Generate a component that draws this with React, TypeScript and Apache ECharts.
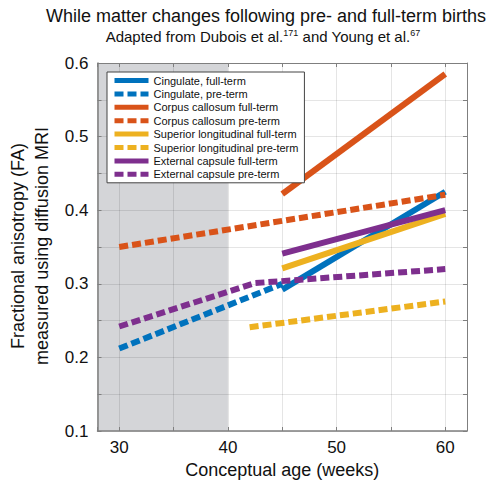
import React, { useEffect, useRef } from "react";
import * as echarts from "echarts";

const FONT = "'Liberation Sans', Arial, Helvetica, sans-serif";

const TITLE = "While matter changes following pre- and full-term births";
const SUBTITLE = "Adapted from Dubois et al.{sup|171} and Young et al.{sup|67}";
const X_NAME = "Conceptual age (weeks)";
const Y_NAME = "Fractional anisotropy (FA)\nmeasured using diffusion MRI";

const X_MIN = 28;
const X_MAX = 62;
const Y_MIN = 0.1;
const Y_MAX = 0.6;
const SHADE = [28, 40];

const seriesNames = [
  "Cingulate, full-term",
  "Cingulate, pre-term",
  "Corpus callosum full-term",
  "Corpus callosum pre-term",
  "Superior longitudinal full-term",
  "Superior longitudinal pre-term",
  "External capsule full-term",
  "External capsule pre-term",
];

const cingulateFull = [[45, 0.292], [60, 0.425]];
const cingulatePre = [[30, 0.212], [45, 0.3]];
const corpusFull = [[45, 0.422], [60, 0.585]];
const corpusPre = [[30, 0.35], [60, 0.421]];
const superiorFull = [[45, 0.321], [60, 0.395]];
const superiorPre = [[42, 0.241], [60, 0.276]];
const externalFull = [[45, 0.341], [60, 0.4]];
const externalPre = [[30, 0.242], [42.5, 0.301], [60, 0.32]];

const seriesData = [
  cingulateFull,
  cingulatePre,
  corpusFull,
  corpusPre,
  superiorFull,
  superiorPre,
  externalFull,
  externalPre,
];

const colors = ["#0072BD", "#0072BD", "#D95319", "#D95319", "#EDB120", "#EDB120", "#7E2F8E", "#7E2F8E"];
const dashed = [false, true, false, true, false, true, false, true];

export default function App() {
  const ref = useRef<HTMLDivElement>(null);

  useEffect(() => {
    if (!ref.current) return;
    const chart = echarts.init(ref.current, undefined, { renderer: "svg" });

    const axisColor = "#7f7f7f";
    const gridColor = "rgba(0,0,0,0.1)";

    const xLabelFmt = (v: number) => (Math.abs(v % 10) < 1e-6 ? String(v) : "");
    const yLabelFmt = (v: number) =>
      Math.abs(v * 10 - Math.round(v * 10)) < 1e-6 ? v.toFixed(1) : "";

    const series: any[] = seriesData.map((d, i) => ({
      name: seriesNames[i],
      type: "line",
      data: d,
      symbol: "none",
      showSymbol: false,
      xAxisIndex: 0,
      yAxisIndex: 0,
      lineStyle: {
        color: colors[i],
        width: 6,
        type: dashed[i] ? [9, 4] : "solid",
        cap: "butt",
      },
      itemStyle: { color: colors[i] },
      z: 3,
    }));

    series[0].markArea = {
      silent: true,
      itemStyle: { color: "#d4d5d8" },
      data: [[{ xAxis: SHADE[0] }, { xAxis: SHADE[1] }]],
      z: -1,
    };

    const baseX = {
      type: "value",
      min: X_MIN,
      max: X_MAX,
      splitNumber: 7,
    };
    const baseY = {
      type: "value",
      min: Y_MIN,
      max: Y_MAX,
      splitNumber: 10,
    };

    chart.setOption({
      animation: false,
      textStyle: { fontFamily: FONT },
      grid: { left: 97.5, right: 31, top: 63, bottom: 53, containLabel: false },
      legend: {
        orient: "vertical",
        left: 107,
        top: 72,
        itemWidth: 34,
        itemHeight: 11,
        itemGap: 2.4,
        padding: [3, 6, 3, 5],
        backgroundColor: "#ffffff",
        borderColor: "#444444",
        borderWidth: 1,
        borderRadius: 0,
        textStyle: { fontSize: 11, color: "#111", fontFamily: FONT },
        lineStyle: { width: 5 },
        itemStyle: { color: "rgba(0,0,0,0)", borderWidth: 0, opacity: 0 },
        data: seriesNames,
      },
      xAxis: [
        {
          ...baseX,
          position: "bottom",
          name: X_NAME,
          nameLocation: "middle",
          nameGap: 30,
          nameTextStyle: { fontSize: 18, color: "#111", fontFamily: FONT },
          axisLine: { show: true, lineStyle: { color: axisColor, width: 1.5 } },
          axisTick: { show: true, inside: true, length: 4, lineStyle: { color: axisColor } },
          axisLabel: { formatter: xLabelFmt, fontSize: 17, color: "#111", margin: 8, fontFamily: FONT },
          splitLine: { show: true, lineStyle: { color: gridColor, width: 1 } },
        },
        {
          ...baseX,
          position: "top",
          axisLine: { show: true, lineStyle: { color: axisColor, width: 1 } },
          axisTick: { show: true, inside: true, length: 4, lineStyle: { color: axisColor } },
          axisLabel: { show: false },
          splitLine: { show: false },
        },
      ],
      yAxis: [
        {
          ...baseY,
          position: "left",
          axisLine: { show: true, lineStyle: { color: axisColor, width: 1.5 } },
          axisTick: { show: true, inside: true, length: 4, lineStyle: { color: axisColor } },
          axisLabel: { formatter: yLabelFmt, fontSize: 17, color: "#111", margin: 9, fontFamily: FONT },
          splitLine: { show: true, lineStyle: { color: gridColor, width: 1 } },
        },
        {
          ...baseY,
          position: "right",
          axisLine: { show: true, lineStyle: { color: axisColor, width: 1 } },
          axisTick: { show: true, inside: true, length: 4, lineStyle: { color: axisColor } },
          axisLabel: { show: false },
          splitLine: { show: false },
        },
      ],
      graphic: [
        {
          type: "text",
          x: 266,
          y: 16,
          style: {
            text: TITLE,
            fontSize: 18,
            fontFamily: FONT,
            fill: "#111",
            align: "center",
            verticalAlign: "middle",
            textAlign: "center",
            textVerticalAlign: "middle",
          },
        },
        {
          type: "text",
          x: 263,
          y: 36,
          style: {
            text: SUBTITLE,
            fontSize: 15,
            fontFamily: FONT,
            fill: "#111",
            align: "center",
            verticalAlign: "middle",
            textAlign: "center",
            textVerticalAlign: "middle",
            rich: {
              sup: { fontSize: 9, verticalAlign: "top", fontFamily: FONT, fill: "#111" },
            },
          },
        },
        {
          type: "text",
          x: 30,
          y: 246,
          rotation: Math.PI / 2,
          style: {
            text: Y_NAME,
            fontSize: 18,
            lineHeight: 24,
            fontFamily: FONT,
            fill: "#111",
            align: "center",
            verticalAlign: "middle",
            textAlign: "center",
            textVerticalAlign: "middle",
          },
        },
      ],
      series,
    });

    return () => chart.dispose();
  }, []);

  return (
    <div
      ref={ref}
      style={{ position: "absolute", left: 0, top: 0, width: 498, height: 484 }}
    />
  );
}
